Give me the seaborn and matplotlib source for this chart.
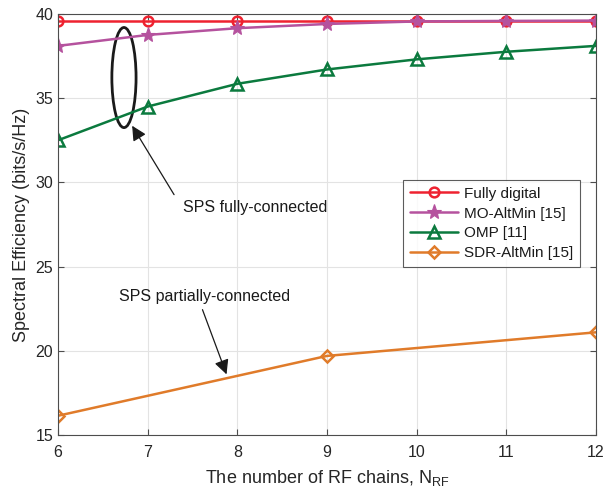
import numpy as np
import matplotlib
matplotlib.use('Agg')
import matplotlib.pyplot as plt
from matplotlib.patches import Ellipse
import seaborn as sns

# Данi, зчитанi з графiка
n_rf = [6, 7, 8, 9, 10, 11, 12]
fully_digital = [39.6, 39.6, 39.6, 39.6, 39.6, 39.6, 39.6]
mo_altmin = [38.1, 38.75, 39.15, 39.4, 39.55, 39.58, 39.6]
omp = [32.5, 34.5, 35.85, 36.7, 37.3, 37.75, 38.1]
n_rf_sdr = [6, 9, 12]
sdr_altmin = [16.15, 19.7, 21.1]

labels = ['Fully digital', 'MO-AltMin [15]', 'OMP [11]', 'SDR-AltMin [15]']
colors = ['#EE2230', '#B5529E', '#0B7A3E', '#E07B2A']

sns.set_style('whitegrid')
plt.rcParams['font.family'] = ['Liberation Sans', 'DejaVu Sans']
plt.rcParams['mathtext.fontset'] = 'custom'
plt.rcParams['mathtext.rm'] = 'Liberation Sans'

fig = plt.figure(figsize=(6.05, 4.95), dpi=100)
ax = fig.add_axes([0.096, 0.121, 0.889, 0.851])

# Лiнiї з маркерами
series = [
    (n_rf, fully_digital, 'o', 7, 'none', 1.8),
    (n_rf, mo_altmin, '*', 11, colors[1], 0.8),
    (n_rf, omp, '^', 8, 'none', 1.8),
    (n_rf_sdr, sdr_altmin, 'D', 6.5, 'none', 1.8),
]
for (xs, ys, m, ms, fc, ew), lab, c in zip(series, labels, colors):
    sns.lineplot(x=xs, y=ys, ax=ax, color=c, linewidth=1.8, marker=m,
                 markersize=ms, mfc=fc, mec=c, mew=ew, label=lab)

ax.set_xlim(6, 12)
ax.set_ylim(15, 40)
ax.set_xticks(range(6, 13))
ax.set_yticks(range(15, 41, 5))
ax.grid(True, color='#e3e3e3', linewidth=0.8)
for s in ax.spines.values():
    s.set_color('#4d4d4d')
    s.set_linewidth(0.8)
ax.tick_params(axis='both', which='both', direction='in', length=4, color='#4d4d4d',
               labelsize=11.5, labelcolor='#262626', top=True, right=True,
               bottom=True, left=True)
ax.tick_params(axis='x', pad=7)

ax.set_xlabel('The number of RF chains, N$_{\\mathrm{RF}}$', fontsize=13, color='#262626',
              labelpad=6)
ax.set_ylabel('Spectral Efficiency (bits/s/Hz)', fontsize=13, color='#262626')

# Анотацiї
ax.add_patch(Ellipse((6.735, 36.22), 0.27, 5.94, fill=False, edgecolor='#1a1a1a', linewidth=2))
ax.annotate('', xy=(6.81, 33.5), xytext=(7.31, 29.13),
            arrowprops=dict(arrowstyle='-|>', color='#1a1a1a', lw=0.9, mutation_scale=22))
ax.text(7.39, 28.48, 'SPS fully-connected', fontsize=11.5, va='center', ha='left', color='#1a1a1a')
ax.annotate('', xy=(7.89, 18.45), xytext=(7.6, 22.6),
            arrowprops=dict(arrowstyle='-|>', color='#1a1a1a', lw=0.9, mutation_scale=22))
ax.text(6.68, 23.2, 'SPS partially-connected', fontsize=11.5, va='center', ha='left', color='#1a1a1a')

leg = ax.legend(loc='upper right', bbox_to_anchor=(0.97, 0.606), borderaxespad=0,
                fontsize=11, frameon=True, fancybox=False, handlelength=3.1,
                labelspacing=0.38, borderpad=0.45, handletextpad=0.4)
leg.get_frame().set_edgecolor('#333333')
leg.get_frame().set_linewidth(0.8)
for t in leg.get_texts():
    t.set_color('#1a1a1a')

fig.savefig('out.png', dpi=100)
